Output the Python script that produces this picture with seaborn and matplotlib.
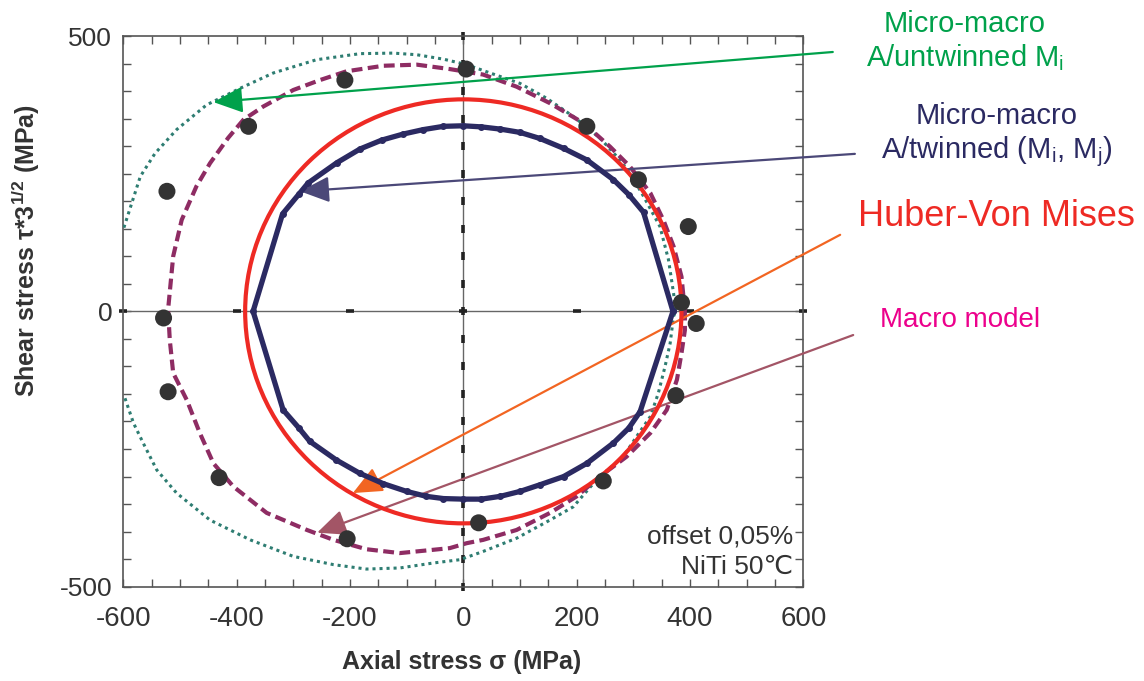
#!/usr/bin/env python3
"""
Yield surfaces of NiTi at 50 C in the axial / shear stress plane.
"""
import matplotlib
matplotlib.use("Agg")
import matplotlib.pyplot as plt
from matplotlib.patches import Circle
from matplotlib.ticker import MultipleLocator
import numpy as np
import seaborn as sns

# === Data (MPa) ===
# micro-macro A/untwinned Mi (teal dotted, open on the left)
untw_x = [-599, -570, -544, -506, -453, -394, -335, -259, -182, -124, -82, -35, 6,
          47, 100, 147, 194, 241, 271, 294, 318, 347, 362, 371, 375, 371, 365, 356,
          344, 330, 306, 282, 235, 194, 153, 94, 35, -6, -53, -112, -171, -229,
          -300, -376, -447, -506, -541, -565, -582, -599]
untw_y = [152, 245, 287, 330, 375, 405, 433, 457, 468, 469, 466, 458, 448,
          433, 414, 387, 354, 315, 281, 251, 209, 154, 94, 33, 0, -9, -58, -100,
          -149, -191, -227, -264, -306, -355, -379, -412, -436, -451, -457, -466, -468, -460,
          -445, -415, -379, -330, -288, -239, -203, -152]

# macro model (maroon dashed)
macro_x = [391, 385, 371, 353, 330, 294, 259, 212, 153, 94, 35, -24, -82, -141,
           -206, -253, -300, -353, -388, -415, -447, -471, -497, -512, -521, -518,
           -512, -488, -465, -441, -406, -347, -276, -229, -171, -112, -53, -24, 6,
           35, 94, 153, 200, 241, 288, 330, 359, 377, 385, 391, 391]
macro_y = [0, 63, 118, 166, 215, 263, 299, 342, 378, 408, 430, 440, 448, 446,
           436, 420, 402, 372, 348, 315, 269, 227, 166, 100, 3, -52,
           -112, -161, -221, -276, -318, -366, -397, -415, -432, -439, -433, -430, -421,
           -415, -397, -366, -336, -300, -264, -221, -179, -124, -76, -34, 0]

# micro-macro A/twinned (Mi, Mj) (navy solid)
twin_x = [370, 318, 292, 265, 218, 177, 135, 100, 65, 32, 0, -35, -71, -106, -144,
          -182, -223, -274, -290, -319, -371, -318, -290, -271, -224, -183, -141,
          -100, -65, -35, 0, 32, 65, 100, 135, 177, 218, 265, 292, 312, 370]
twin_y = [0, 180, 212, 239, 275, 296, 314, 325, 331, 335, 337, 336, 330, 322, 311,
          295, 270, 233, 213, 177, 0, -179, -212, -236, -270, -294, -313,
          -327, -336, -340, -341, -341, -336, -327, -315, -300, -276, -239, -212, -182, 0]

# Huber-Von Mises criterion: circle in (sigma, tau*sqrt(3))
vm_radius = 385

# experimental points
exp_x = [5, -209, -379, -523, -529, -521, -431, -205, 27, 218, 309, 397, 385, 411, 375, 247]
exp_y = [440, 420, 336, 218, -12, -146, -302, -413, -384, 336, 239, 154, 16, -22, -153, -308]

# === Style ===
sns.set_theme(style="ticks")
plt.rcParams["font.family"] = ["Liberation Sans", "DejaVu Sans"]
plt.rcParams["mathtext.default"] = "regular"
plt.rcParams["axes.unicode_minus"] = False
TXT = "#333333"

fig = plt.figure(figsize=(11.44, 6.81), dpi=100)
ax = fig.add_axes([0.1078, 0.1385, 0.5944, 0.8086])

# zero axes
ax.axhline(0, color="#666666", lw=1.0, zorder=1)
ax.axvline(0, color="#666666", lw=1.0, zorder=1)
minor_y = np.arange(-500, 501, 50)
ax.plot(np.zeros_like(minor_y), minor_y, ls="none", marker="|", ms=6, mew=2.6,
        color="#222222", zorder=1.5, clip_on=False)
major_x = np.arange(-600, 601, 200)
ax.plot(major_x, np.zeros_like(major_x), ls="none", marker="_", ms=6, mew=2.6,
        color="#222222", zorder=1.5, clip_on=False)

# curves
ax.plot(untw_x, untw_y, color="#2E7D72", lw=2.2, dashes=(1, 1.3), zorder=3)
ax.plot(macro_x, macro_y, color="#8E2C63", lw=3.0, dashes=(2.6, 1.3), zorder=3)
ax.add_patch(Circle((0, 0), vm_radius, fill=False, ec="#EE2A24", lw=3.0, zorder=4))
ax.plot(twin_x, twin_y, color="#2B2A62", lw=3.8, marker="o", ms=4, zorder=5)
sns.scatterplot(x=exp_x, y=exp_y, color="#333333", s=150, edgecolor="none",
                zorder=6, ax=ax)

# axes
ax.set_xlim(-600, 600)
ax.set_ylim(-500, 500)
ax.xaxis.set_major_locator(MultipleLocator(200))
ax.xaxis.set_minor_locator(MultipleLocator(50))
ax.yaxis.set_major_locator(MultipleLocator(500))
ax.yaxis.set_minor_locator(MultipleLocator(50))
ax.tick_params(which="both", direction="in", top=True, right=True,
               length=6, width=1.0, color="#555555", labelcolor=TXT)
ax.tick_params(axis="x", which="major", pad=14, labelsize=20)
ax.tick_params(axis="y", which="major", pad=8, labelsize=19)
for sp in ax.spines.values():
    sp.set_color("#555555")
    sp.set_linewidth(1.2)

ax.set_xlabel("Axial stress σ (MPa)", fontsize=18, fontweight="bold", color=TXT)
ax.set_ylabel("Shear stress τ*3$^{1/2}$ (MPa)", fontsize=18, fontweight="bold",
              color=TXT)
ax.xaxis.set_label_coords(0.497, -0.115)
ax.yaxis.set_label_coords(-0.12, 0.61)

ax.text(0.985, 0.015, "offset 0,05%\nNiTi 50℃", transform=ax.transAxes,
        ha="right", va="bottom", fontsize=19, color=TXT, linespacing=1.3,
        family=["Liberation Sans", "DejaVu Sans"])

# annotations: (tip on chart, start of line outside, colour)
arrows = [
    ((-441, 380), (652, 471), "#00A14B"),
    ((-288, 218), (691, 286), "#4B4878"),
    ((-195, -330), (665, 139), "#F26522"),
    ((-258, -402), (688, -43), "#A35566"),
]
for tip, start, col in arrows:
    ax.annotate("", xy=tip, xytext=start, xycoords="data", textcoords="data",
                annotation_clip=False,
                arrowprops=dict(arrowstyle="-|>,head_length=0.9,head_width=0.4",
                                mutation_scale=20, color=col, lw=1.6,
                                shrinkA=0, shrinkB=0))

W, H = 1144, 681
def label(px, py, s, col, size):
    fig.text(px / W, 1 - py / H, s, ha="center", va="center", color=col,
             fontsize=size)

label(965, 24, "Micro-macro", "#00A14B", 21)
label(965, 58, "A/untwinned M$_i$", "#00A14B", 21)
label(997, 116, "Micro-macro", "#2B2A62", 21)
label(997, 152, "A/twinned (M$_i$, M$_j$)", "#2B2A62", 21)
label(996, 217, "Huber-Von Mises", "#EE2A24", 26)
label(960, 320, "Macro model", "#EC008C", 20)

fig.savefig("out.png", dpi=100, facecolor="white")
